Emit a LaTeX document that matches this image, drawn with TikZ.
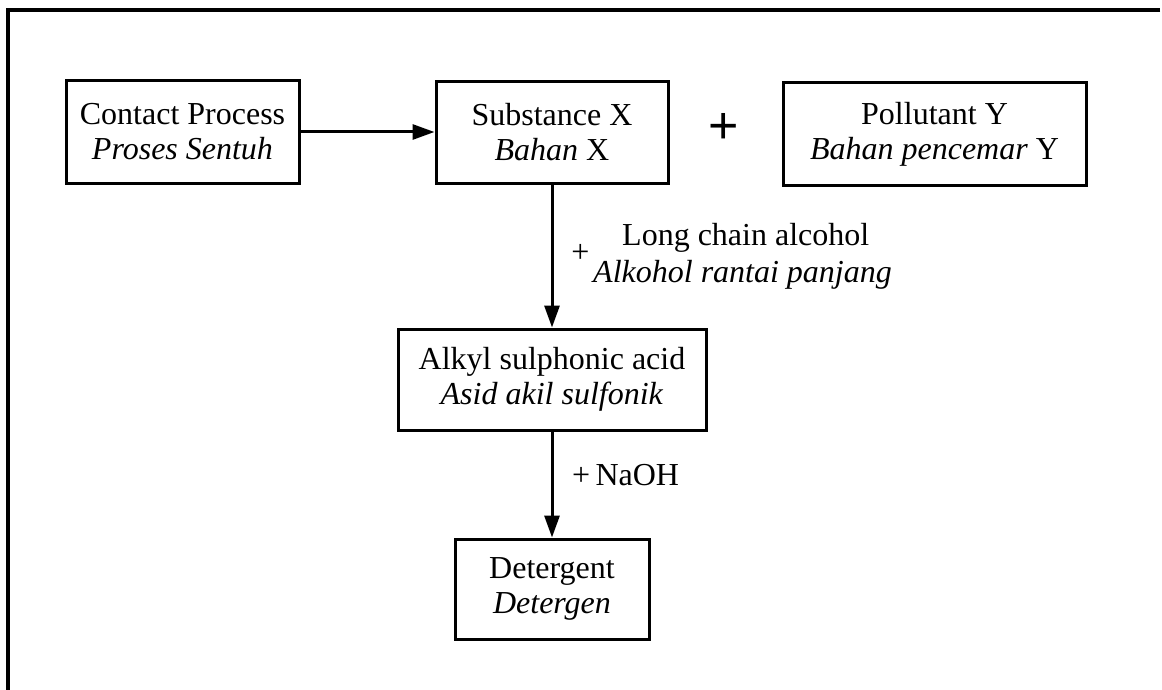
\documentclass[tikz,border=0pt]{standalone}
\usepackage{fontspec}
\setmainfont{Liberation Serif}
\newfontfamily\plusfont{Liberation Sans}
\usetikzlibrary{arrows.meta}
\begin{document}
\begin{tikzpicture}[x=1pt,y=-1pt,
  box/.style={draw,line width=3pt,align=center,inner sep=0pt,
    font=\fontsize{32}{35}\selectfont},
  arr/.style={line width=3pt,-{Triangle[length=22pt,width=15pt]}},
  lbl/.style={font=\fontsize{32}{35}\selectfont,inner sep=0pt}]
\useasboundingbox (0,0) rectangle (1162,690);
\coordinate (ftl) at (8,10);
\coordinate (ftr) at (1160,10);
\coordinate (fbl) at (8,690);
\draw[line width=3.2pt] (ftr) -- (ftl) -- (fbl);

\node[box,minimum width=233pt,minimum height=103pt] (cp) at (182.5,132)
  {Contact Process\\\textit{Proses Sentuh}};
\node[box,minimum width=232pt,minimum height=101pt] (sx) at (552,132.5)
  {Substance X\\\textit{Bahan} X};
\node[font=\plusfont\fontsize{52}{52}\selectfont,inner sep=0pt] (plus) at (724,128) {+};
\node[box,minimum width=303pt,minimum height=102pt] (py) at (934.5,134)
  {Pollutant Y\\\textit{Bahan pencemar} Y};
\node[box,minimum width=308pt,minimum height=101pt] (alk) at (552,379.5)
  {Alkyl sulphonic acid\\\textit{Asid akil sulfonik}};
\node[box,minimum width=194pt,minimum height=100pt] (det) at (552,589)
  {Detergent\\\textit{Detergen}};

\draw[arr] (cp.east) -- (cp.east -| sx.west);
\draw[arr] (sx.south) -- (alk.north);
\draw[arr] (alk.south) -- (det.north);

\node[lbl] (p1) at (580.5,253) {+};
\node[lbl,anchor=base west] (l1) at (622,245) {Long chain alcohol};
\node[lbl,anchor=base west] (l2) at (593,282) {\textit{Alkohol rantai panjang}};
\node[lbl,anchor=base west] (l3) at (572,485) {+\,NaOH};
\end{tikzpicture}
\end{document}
